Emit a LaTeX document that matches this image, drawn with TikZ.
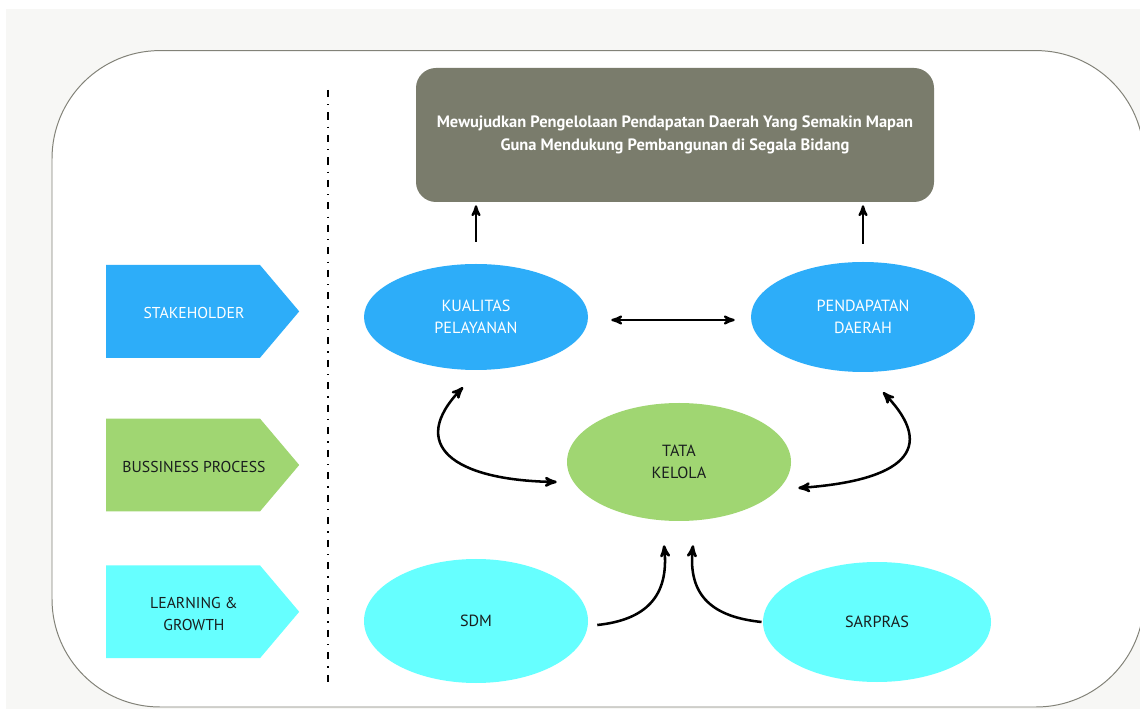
\documentclass[tikz,border=0pt]{standalone}
\usepackage{fontspec}
\setmainfont{PT Sans}
\usetikzlibrary{arrows,shapes.geometric}
\definecolor{latar}{RGB}{247,247,245}
\definecolor{rand}{RGB}{130,130,120}
\definecolor{abu}{RGB}{122,124,108}
\definecolor{biru}{RGB}{45,173,249}
\definecolor{hijau}{RGB}{160,214,114}
\definecolor{cyanmuda}{RGB}{102,255,255}
\definecolor{tinta}{RGB}{25,30,30}
\tikzstyle{elips}=[ellipse, minimum width=5.6cm, minimum height=2.65cm, align=center, text=tinta, font=\fontsize{11.5}{15.5}\selectfont]
\tikzstyle{panah}=[-stealth', line width=1.6pt]
\tikzstyle{doppelpanah}=[stealth'-stealth', line width=1.8pt]

\begin{document}
\begin{tikzpicture}[scale=1]
			\useasboundingbox (0,0) rectangle (28.5,17.725);
			% Hintergrund zeichnen
			\fill[latar] (0.15,0) rectangle (28.5,17.5);
			\draw[rand, fill=white, line width=0.7pt, rounded corners=2.7cm] (1.3,0.05) rectangle (28.6,16.46);
			% Trennlinie zeichnen
			\draw[line width=1.4pt, dash pattern=on 5pt off 5pt on 1pt off 5pt] (8.2,15.475) -- (8.2,0.575);
			% Perspektiven zeichnen
			\foreach \y/\farbe/\schrift/\beschrift [count=\i] in {9.94/biru/white/STAKEHOLDER, 6.1/hijau/tinta/BUSSINESS PROCESS, 2.43/cyanmuda/tinta/{LEARNING \&\\GROWTH}}
			{
				\fill[\farbe] (2.65,\y-1.16) -- (6.5,\y-1.16) -- (7.48,\y) -- (6.5,\y+1.16) -- (2.65,\y+1.16) -- cycle;
				\node[text=\schrift, align=center, font=\fontsize{11.2}{15.5}\selectfont] (perspektif\i) at (4.85,\y-0.05) {\beschrift};
			}
			% Ziel zeichnen
			\node[fill=abu, rounded corners=0.5cm, minimum width=12.95cm, minimum height=3.35cm, text=white, align=center, font=\bfseries\fontsize{11.7}{16.3}\selectfont] (tujuan) at (16.875,14.35) {Mewujudkan Pengelolaan Pendapatan Daerah Yang Semakin Mapan\\Guna Mendukung Pembangunan di Segala Bidang};
			% Ellipsen zeichnen
			\node[elips, fill=biru, text=white] (kualitas) at (11.9,9.8) {KUALITAS\\PELAYANAN};
			\node[elips, fill=biru, text=white, minimum height=2.75cm] (pendapatan) at (21.575,9.8) {PENDAPATAN\\DAERAH};
			\node[elips, fill=hijau, minimum height=2.95cm] (tata) at (16.975,6.175) {TATA\\KELOLA};
			\node[elips, fill=cyanmuda, minimum height=3.1cm] (sdm) at (11.9,2.2) {SDM};
			\node[elips, fill=cyanmuda, minimum width=5.7cm, minimum height=3cm] (sarpras) at (21.925,2.175) {SARPRAS};
			% Pfeile zeichnen
			\draw[panah] ([yshift=0.55cm]kualitas.north) -- ([yshift=-0.075cm]tujuan.south -| kualitas.north);
			\draw[panah] ([yshift=0.45cm]pendapatan.north) -- ([yshift=-0.075cm]tujuan.south -| pendapatan.north);
			\draw[stealth'-stealth', line width=1.6pt] ([xshift=0.575cm,yshift=-0.075cm]kualitas.east) -- ([xshift=-0.4cm,yshift=-0.075cm]pendapatan.west);
			\draw[doppelpanah] ([xshift=-0.325cm,yshift=-0.425cm]kualitas.south) .. controls +(226:2) and +(179:2.6) .. ([xshift=-0.25cm,yshift=-0.5cm]tata.west);
			\draw[doppelpanah] ([xshift=0.5cm,yshift=-0.5cm]pendapatan.south) .. controls +(-46:2) and +(4:2.6) .. ([xshift=0.175cm,yshift=-0.65cm]tata.east);
			\draw[-stealth', line width=1.8pt] ([xshift=0.225cm,yshift=-0.1cm]sdm.east) .. controls +(6:1.2) and +(-84:1.3) .. ([xshift=-0.375cm,yshift=-0.6cm]tata.south);
			\draw[-stealth', line width=1.8pt] ([xshift=-0.03cm]sarpras.west) .. controls +(174:1.2) and +(-96:1.3) .. ([xshift=0.35cm,yshift=-0.6cm]tata.south);
		\end{tikzpicture}
\end{document}
